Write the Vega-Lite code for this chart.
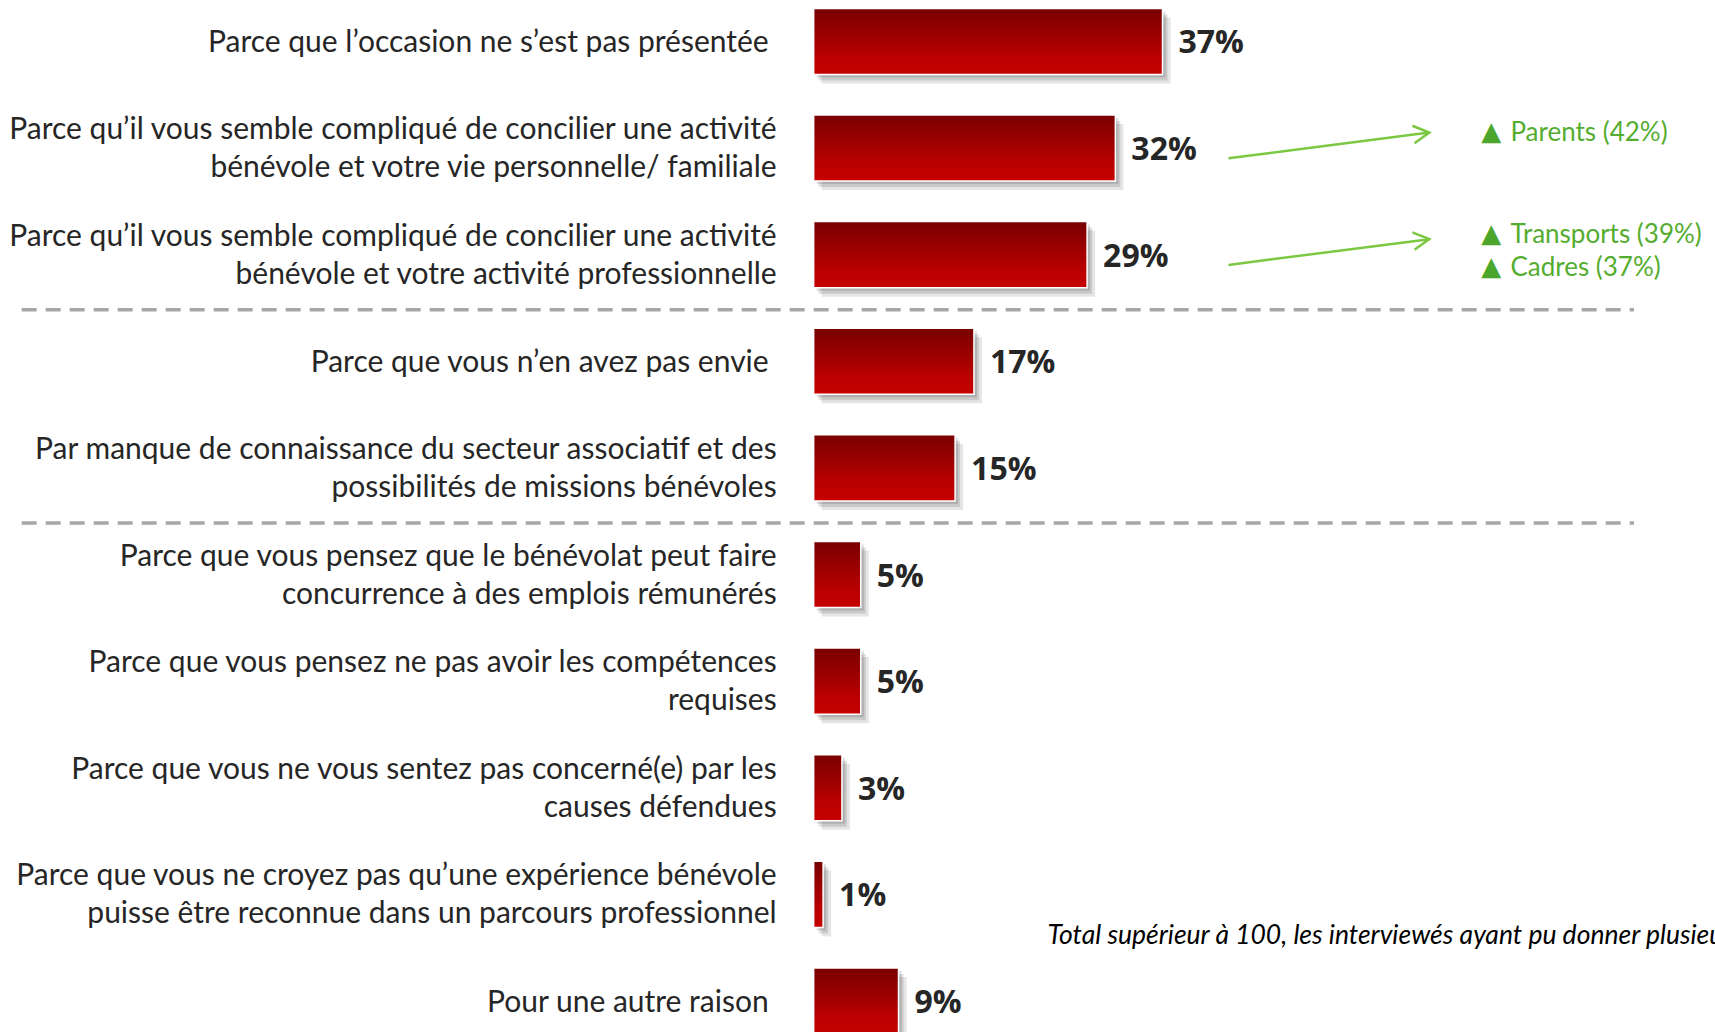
{
  "$schema": "https://vega.github.io/schema/vega-lite/v6.json",
  "width": 1715,
  "height": 1032,
  "autosize": {"type": "none"},
  "padding": 0,
  "background": "white",
  "config": {"view": {"stroke": null}, "font": "Lato"},
  "datasets": {
    "reasons": [
      {"reason": "Parce que l’occasion ne s’est pas présentée", "pct": 37},
      {"reason": "Parce qu’il vous semble compliqué de concilier une activité\nbénévole et votre vie personnelle/ familiale", "pct": 32},
      {"reason": "Parce qu’il vous semble compliqué de concilier une activité\nbénévole et votre activité professionnelle", "pct": 29},
      {"reason": "Parce que vous n’en avez pas envie", "pct": 17},
      {"reason": "Par manque de connaissance du secteur associatif et des\npossibilités de missions bénévoles", "pct": 15},
      {"reason": "Parce que vous pensez que le bénévolat peut faire\nconcurrence à des emplois rémunérés", "pct": 5},
      {"reason": "Parce que vous pensez ne pas avoir les compétences\nrequises", "pct": 5},
      {"reason": "Parce que vous ne vous sentez pas concerné(e) par les\ncauses défendues", "pct": 3},
      {"reason": "Parce que vous ne croyez pas qu’une expérience bénévole\npuisse être reconnue dans un parcours professionnel", "pct": 1},
      {"reason": "Pour une autre raison", "pct": 9}
    ],
    "separators": [
      {"reason": "Parce que vous n’en avez pas envie"},
      {"reason": "Parce que vous pensez que le bénévolat peut faire\nconcurrence à des emplois rémunérés"}
    ],
    "notes": [
      {"reason": "Parce qu’il vous semble compliqué de concilier une activité\nbénévole et votre vie personnelle/ familiale", "marker": "▲", "note": "Parents (42%)"},
      {"reason": "Parce qu’il vous semble compliqué de concilier une activité\nbénévole et votre activité professionnelle", "marker": "▲\n▲", "note": "Transports (39%)\nCadres (37%)"}
    ]
  },
  "layer": [
    {
      "data": {"name": "reasons"},
      "mark": {"type": "bar", "color": "#000000", "opacity": 0.1, "xOffset": 8, "x2Offset": 8, "yOffset": 9, "y2Offset": 9},
      "encoding": {
        "y": {
          "field": "reason", "type": "nominal", "axis": null,
          "scale": {
            "type": "band",
            "domain": [
              "Parce que l’occasion ne s’est pas présentée",
              "Parce qu’il vous semble compliqué de concilier une activité\nbénévole et votre vie personnelle/ familiale",
              "Parce qu’il vous semble compliqué de concilier une activité\nbénévole et votre activité professionnelle",
              "Parce que vous n’en avez pas envie",
              "Par manque de connaissance du secteur associatif et des\npossibilités de missions bénévoles",
              "Parce que vous pensez que le bénévolat peut faire\nconcurrence à des emplois rémunérés",
              "Parce que vous pensez ne pas avoir les compétences\nrequises",
              "Parce que vous ne vous sentez pas concerné(e) par les\ncauses défendues",
              "Parce que vous ne croyez pas qu’une expérience bénévole\npuisse être reconnue dans un parcours professionnel",
              "Pour une autre raison"
            ],
            "range": [2, 1034],
            "paddingInner": 0.38,
            "paddingOuter": 0.03,
            "align": 1
          }
        },
        "x": {"field": "pct", "type": "quantitative", "axis": null, "scale": {"domain": [-86.3, 95.6], "nice": false, "zero": false}}
      }
    },
    {
      "data": {"name": "reasons"},
      "mark": {"type": "bar", "color": "#000000", "opacity": 0.12, "xOffset": 5, "x2Offset": 5, "yOffset": 6, "y2Offset": 6},
      "encoding": {
        "y": {"field": "reason", "type": "nominal", "axis": null},
        "x": {"field": "pct", "type": "quantitative", "axis": null}
      }
    },
    {
      "data": {"name": "reasons"},
      "mark": {"type": "bar", "color": "#000000", "opacity": 0.12, "xOffset": 3, "x2Offset": 3, "yOffset": 3, "y2Offset": 3},
      "encoding": {
        "y": {"field": "reason", "type": "nominal", "axis": null},
        "x": {"field": "pct", "type": "quantitative", "axis": null}
      }
    },
    {
      "data": {"name": "reasons"},
      "mark": {
        "type": "bar",
        "stroke": "#ffffff",
        "strokeWidth": 1.5,
        "fill": {
          "gradient": "linear", "x1": 0, "y1": 0, "x2": 0, "y2": 1,
          "stops": [
            {"offset": 0, "color": "#780000"},
            {"offset": 0.7, "color": "#b80000"},
            {"offset": 1, "color": "#c60000"}
          ]
        }
      },
      "encoding": {
        "y": {"field": "reason", "type": "nominal", "axis": null},
        "x": {"field": "pct", "type": "quantitative", "axis": null}
      }
    },
    {
      "data": {"name": "reasons"},
      "mark": {"type": "text", "align": "left", "baseline": "middle", "dx": 16, "dy": 2, "fontSize": 32, "fontWeight": "bold", "font": "Open Sans", "color": "#262626", "text": {"expr": "datum.pct + '%'"}},
      "encoding": {
        "y": {"field": "reason", "type": "nominal", "axis": null},
        "x": {"field": "pct", "type": "quantitative", "axis": null}
      }
    },
    {
      "data": {"name": "reasons"},
      "transform": [{"filter": "indexof(datum.reason, '\\n') < 0"}],
      "mark": {"type": "text", "align": "right", "baseline": "middle", "dx": -45, "dy": 2, "fontSize": 30, "color": "#262626"},
      "encoding": {
        "y": {"field": "reason", "type": "nominal", "axis": null},
        "x": {"datum": 0, "type": "quantitative", "axis": null},
        "text": {"field": "reason"}
      }
    },
    {
      "data": {"name": "reasons"},
      "transform": [{"filter": "indexof(datum.reason, '\\n') >= 0"}],
      "mark": {"type": "text", "align": "right", "baseline": "middle", "dx": -37, "dy": -18, "fontSize": 30, "lineBreak": "\n", "lineHeight": 38, "color": "#262626"},
      "encoding": {
        "y": {"field": "reason", "type": "nominal", "axis": null},
        "x": {"datum": 0, "type": "quantitative", "axis": null},
        "text": {"field": "reason"}
      }
    },
    {
      "data": {"name": "separators"},
      "mark": {"type": "rule", "color": "#a6a6a6", "strokeWidth": 3.5, "strokeDash": [15, 9]},
      "encoding": {
        "y": {"field": "reason", "type": "nominal", "axis": null, "bandPosition": -0.28},
        "x": {"datum": -84, "type": "quantitative", "axis": null},
        "x2": {"datum": 87}
      }
    },
    {
      "data": {"name": "notes"},
      "mark": {"type": "rule", "color": "#7cc843", "strokeWidth": 2.5},
      "encoding": {
        "y": {"field": "reason", "type": "nominal", "axis": null, "bandPosition": 0.655},
        "y2": {"field": "reason", "bandPosition": 0.265},
        "x": {"datum": 44, "type": "quantitative", "axis": null},
        "x2": {"datum": 65.3}
      }
    },
    {
      "data": {"name": "notes"},
      "mark": {"type": "point", "shape": "M-1,-0.55L0,0L-1,0.55", "size": 1024, "filled": false, "stroke": "#7cc843", "strokeWidth": 2.5, "opacity": 1, "angle": 353},
      "encoding": {
        "y": {"field": "reason", "type": "nominal", "axis": null, "bandPosition": 0.265},
        "x": {"datum": 65.3, "type": "quantitative", "axis": null}
      }
    },
    {
      "data": {"name": "notes"},
      "transform": [{"filter": "indexof(datum.note, '\\n') < 0"}],
      "mark": {"type": "text", "align": "left", "baseline": "middle", "dy": -16, "fontSize": 26, "color": "#4ca62c", "font": "DejaVu Sans"},
      "encoding": {
        "y": {"field": "reason", "type": "nominal", "axis": null},
        "x": {"datum": 70.8, "type": "quantitative", "axis": null},
        "text": {"field": "marker"}
      }
    },
    {
      "data": {"name": "notes"},
      "transform": [{"filter": "indexof(datum.note, '\\n') < 0"}],
      "mark": {"type": "text", "align": "left", "baseline": "middle", "dy": -15, "fontSize": 26, "color": "#55ad30"},
      "encoding": {
        "y": {"field": "reason", "type": "nominal", "axis": null},
        "x": {"datum": 73.9, "type": "quantitative", "axis": null},
        "text": {"field": "note"}
      }
    },
    {
      "data": {"name": "notes"},
      "transform": [{"filter": "indexof(datum.note, '\\n') >= 0"}],
      "mark": {"type": "text", "align": "left", "baseline": "middle", "dy": -21, "fontSize": 26, "lineBreak": "\n", "lineHeight": 33, "color": "#4ca62c", "font": "DejaVu Sans"},
      "encoding": {
        "y": {"field": "reason", "type": "nominal", "axis": null},
        "x": {"datum": 70.8, "type": "quantitative", "axis": null},
        "text": {"field": "marker"}
      }
    },
    {
      "data": {"name": "notes"},
      "transform": [{"filter": "indexof(datum.note, '\\n') >= 0"}],
      "mark": {"type": "text", "align": "left", "baseline": "middle", "dy": -20, "fontSize": 26, "lineBreak": "\n", "lineHeight": 33, "color": "#55ad30"},
      "encoding": {
        "y": {"field": "reason", "type": "nominal", "axis": null},
        "x": {"datum": 73.9, "type": "quantitative", "axis": null},
        "text": {"field": "note"}
      }
    },
    {
      "data": {"values": [{"reason": "Parce que vous ne croyez pas qu’une expérience bénévole\npuisse être reconnue dans un parcours professionnel", "note": "Total supérieur à 100, les interviewés ayant pu donner plusieurs réponses"}]},
      "mark": {"type": "text", "align": "left", "baseline": "middle", "dy": 42, "fontSize": 26.5, "fontStyle": "italic", "color": "#000000"},
      "encoding": {
        "y": {"field": "reason", "type": "nominal", "axis": null},
        "x": {"datum": 24.8, "type": "quantitative", "axis": null},
        "text": {"field": "note"}
      }
    }
  ]
}
